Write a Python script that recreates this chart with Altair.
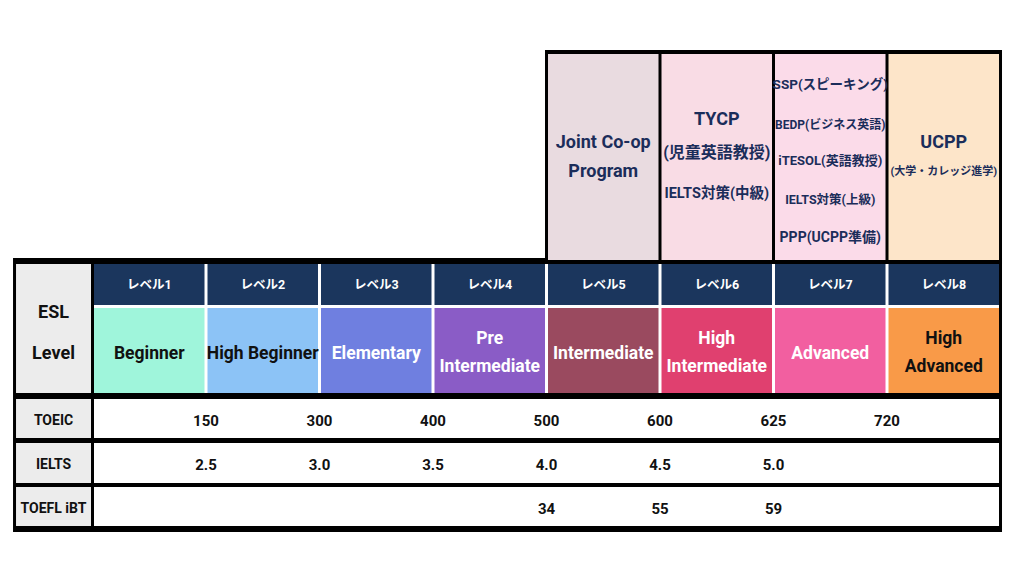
import altair as alt
import pandas as pd

# ---------------- data ----------------
level_labels = ["レベル1", "レベル2", "レベル3", "レベル4", "レベル5", "レベル6", "レベル7", "レベル8"]
level_names = ["Beginner", "High Beginner", "Elementary", "Pre\nIntermediate", "Intermediate",
               "High\nIntermediate", "Advanced", "High\nAdvanced"]
level_colors = ["#9FF5DB", "#8CC3F6", "#6F7FE0", "#8A5CC6", "#9A4A5F", "#E0406F", "#F25FA0", "#F99A48"]
level_text_colors = ["#111111", "#111111", "#FFFFFF", "#FFFFFF", "#FFFFFF", "#FFFFFF", "#FFFFFF", "#111111"]

row_labels = ["TOEIC", "IELTS", "TOEFL iBT"]
toeic_scores = ["150", "300", "400", "500", "600", "625", "720"]
toeic_after_level = [1, 2, 3, 4, 5, 6, 7]
ielts_scores = ["2.5", "3.0", "3.5", "4.0", "4.5", "5.0"]
ielts_after_level = [1, 2, 3, 4, 5, 6]
toefl_scores = ["34", "55", "59"]
toefl_after_level = [4, 5, 6]

program_levels = [5, 6, 7, 8]
program_colors = ["#E9DBE0", "#F9DCE5", "#FBDBE9", "#FDE5C9"]
program_lines = [
    ["Joint Co-op", "Program"],
    ["TYCP", "(児童英語教授)", "IELTS対策(中級)"],
    ["SSP(スピーキング)", "BEDP(ビジネス英語)", "iTESOL(英語教授)", "IELTS対策(上級)", "PPP(UCPP準備)"],
    ["UCPP", "(大学・カレッジ進学)"],
]

# ---------------- layout (pixels / styles) ----------------
program_line_y = [[143, 172], [120, 153, 194], [85, 125, 161, 200, 238], [143, 172]]
program_line_size = [[18, 18], [18, 16, 14.5], [13.5, 12, 13, 12.5, 14], [18, 11]]
LABEL_LEFT = -0.687
PROG_BOX = (50, 264)
PROG_CELL = (54, 260)
TABLE = (258, 532)
HEAD = (264, 305)
HEAD_BG = (264, 393)
NAME = (308, 393)
ROWS = [(399, 438), (443, 483), (487, 526)]
ROW_TEXT_SHIFT = 2
NAVY = "#1B365D"
TXT_NAVY = "#1B2D5A"
FONT = "Roboto, Noto Sans CJK JP, sans-serif"

W, H = 1000, 540
xs = alt.Scale(domain=[-0.7445, 8.066], nice=False, zero=False)
ys = alt.Scale(domain=[8, 8 + H], nice=False, zero=False, reverse=True)

# background black blocks
bg = pd.DataFrame([
    dict(x=LABEL_LEFT, x2=8, y=TABLE[0], y2=TABLE[1], c="#000000"),
    dict(x=4, x2=8, y=PROG_BOX[0], y2=PROG_BOX[1], c="#000000"),
])
white_bg = pd.DataFrame([dict(x=0, x2=8, y=HEAD_BG[0], y2=HEAD_BG[1], c="#FFFFFF")])

cells = []
for lv, col in zip(program_levels, program_colors):
    cells.append(dict(x=lv - 1, x2=lv, y=PROG_CELL[0], y2=PROG_CELL[1], c=col))
for i, col in enumerate(level_colors):
    cells.append(dict(x=i, x2=i + 1, y=HEAD[0], y2=HEAD[1], c=NAVY))
    cells.append(dict(x=i, x2=i + 1, y=NAME[0], y2=NAME[1], c=col))
cells.append(dict(x=LABEL_LEFT, x2=0, y=HEAD_BG[0], y2=HEAD_BG[1], c="#ECECEC"))
for (t, b) in ROWS:
    cells.append(dict(x=LABEL_LEFT, x2=0, y=t, y2=b, c="#ECECEC"))
    cells.append(dict(x=0, x2=8, y=t, y2=b, c="#FFFFFF"))
cells = pd.DataFrame(cells)

def rect_layer(df, off):
    return alt.Chart(df).mark_rect(xOffset=off, x2Offset=-off).encode(
        x=alt.X("x:Q", scale=xs, axis=None), x2="x2:Q",
        y=alt.Y("y:Q", scale=ys, axis=None), y2="y2:Q",
        color=alt.Color("c:N", scale=None),
    )

# texts
texts = []
for lv, lines, ypos, sizes in zip(program_levels, program_lines, program_line_y, program_line_size):
    for t, yy, s in zip(lines, ypos, sizes):
        texts.append(dict(t=t, x=lv - 0.5, y=yy, s=s, c=TXT_NAVY))
for i, lab in enumerate(level_labels):
    texts.append(dict(t=lab, x=i + 0.5, y=(HEAD[0] + HEAD[1]) / 2, s=12.5, c="#FFFFFF"))
mid_label = LABEL_LEFT / 2
texts.append(dict(t="ESL", x=mid_label, y=313, s=18, c="#111111"))
texts.append(dict(t="Level", x=mid_label, y=354, s=18, c="#111111"))
for lab, (t, b) in zip(row_labels, ROWS):
    texts.append(dict(t=lab, x=mid_label, y=(t + b) / 2 + ROW_TEXT_SHIFT, s=14, c="#111111"))
for scores, pos, (t, b) in zip([toeic_scores, ielts_scores, toefl_scores],
                               [toeic_after_level, ielts_after_level, toefl_after_level], ROWS):
    for sc, p in zip(scores, pos):
        texts.append(dict(t=sc, x=p, y=(t + b) / 2 + ROW_TEXT_SHIFT, s=15, c="#111111"))
# level names (one or two lines)
for i, (nm, tc) in enumerate(zip(level_names, level_text_colors)):
    parts = nm.split("\n")
    ypos = [354] if len(parts) == 1 else [339, 367]
    for p, yy in zip(parts, ypos):
        texts.append(dict(t=p, x=i + 0.5, y=yy, s=17.5, c=tc))
texts = pd.DataFrame(texts)

text_layer = alt.Chart(texts).mark_text(font=FONT, fontWeight="bold", baseline="middle", align="center").encode(
    x=alt.X("x:Q", scale=xs, axis=None), y=alt.Y("y:Q", scale=ys, axis=None),
    text="t:N", size=alt.Size("s:Q", scale=None), color=alt.Color("c:N", scale=None),
)

chart = alt.layer(
    rect_layer(bg, -1.5), rect_layer(white_bg, 1.5), rect_layer(cells, 1.5), text_layer
).properties(width=W, height=H, padding=0, autosize=alt.AutoSizeParams(type="none")).configure_view(stroke=None)

chart.save("out.html", embed_options={"renderer": "svg", "actions": False})
